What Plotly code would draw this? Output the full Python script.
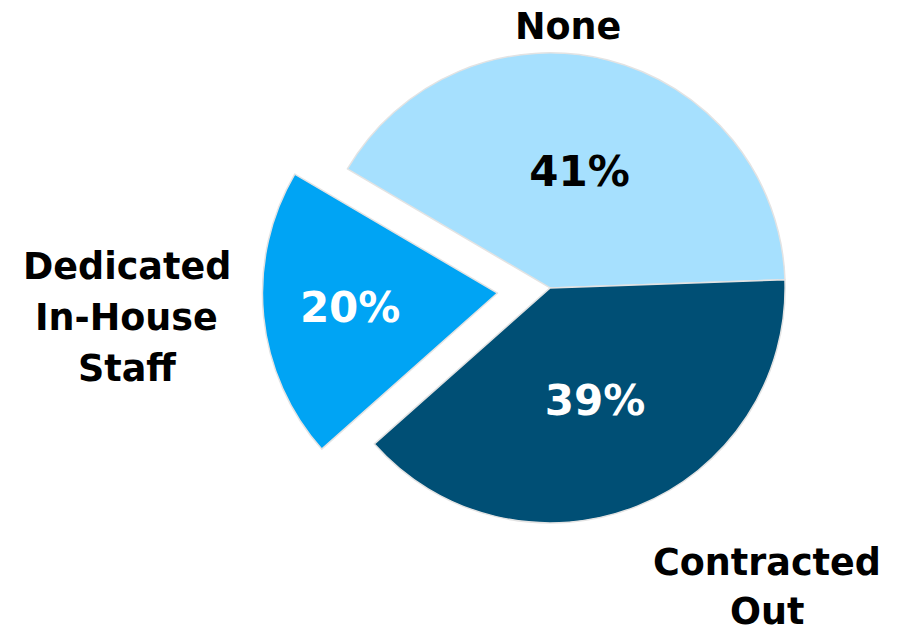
import plotly.graph_objects as go

categories = ["None", "Contracted Out", "Dedicated In-House Staff"]
values = [41, 39, 20]
colors = ["#A6E0FE", "#004F75", "#00A4F4"]
text_colors = ["#000000", "#FFFFFF", "#FFFFFF"]
pulls = [0, 0, 0.225]

# outside label lines and their positions (paper coords)
label_lines = [
    ("None", 568, 27),
    ("Dedicated", 127, 266),
    ("In-House", 127, 317),
    ("Staff", 127, 368),
    ("Contracted", 767, 562),
    ("Out", 767, 611),
]

W, H = 907, 634
FONT = "DejaVu Sans"

fig = go.Figure(go.Pie(
    labels=categories,
    values=values,
    sort=False,
    direction="clockwise",
    rotation=-59.6,
    pull=pulls,
    marker=dict(colors=colors, line=dict(color="#E3E3E3", width=1.5)),
    texttemplate="<b>%{percent:.0%}</b>",
    textposition="inside",
    insidetextorientation="horizontal",
    textfont=dict(family=FONT, size=42, color=text_colors),
    domain=dict(x=[0.28, 0.933], y=[0.0918, 1.0]),
    hoverinfo="label+percent",
    showlegend=False,
))

for txt, x, y in label_lines:
    fig.add_annotation(
        text="<b>%s</b>" % txt, x=x / W, y=1 - y / H, xref="paper", yref="paper",
        showarrow=False, xanchor="center", yanchor="middle",
        font=dict(family=FONT, size=36.5, color="#000000"),
    )

fig.update_layout(
    width=W, height=H,
    margin=dict(l=0, r=0, t=0, b=0),
    paper_bgcolor="white", plot_bgcolor="white",
    uniformtext=dict(minsize=42, mode="show"),
)

fig.write_html("out.html")
